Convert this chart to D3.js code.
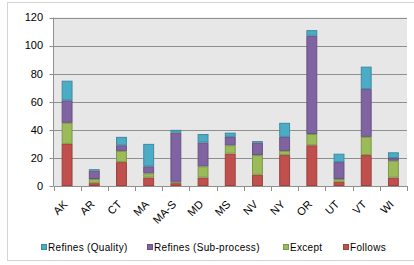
<!DOCTYPE html>
<html>
<head>
<meta charset="utf-8">
<script src="https://cdn.jsdelivr.net/npm/d3@7"></script>
<style>
  body { margin: 0; background: #fff; }
  svg { display: block; font-family: "Liberation Sans", Arial, sans-serif; }
</style>
</head>
<body>
<svg id="chart" width="414" height="265"></svg>
<script>
// data
var states = ['AK', 'AR', 'CT', 'MA', 'MA-S', 'MD', 'MS', 'NV', 'NY', 'OR', 'UT', 'VT', 'WI'];
var follows    = [30, 2, 17, 6, 2, 6, 23, 8, 22, 29, 3, 22, 6];
var except     = [15, 3, 8, 3, 1, 8, 6, 14, 3, 8, 2, 13, 12];
var subProcess = [16, 6, 4, 5, 35, 17, 6, 9, 10, 70, 12, 34, 2];
var quality    = [14, 1, 6, 16, 2, 6, 3, 1, 10, 4, 6, 16, 4];
var yTicks = [0, 20, 40, 60, 80, 100, 120];

var seriesNames = ['Follows', 'Except', 'Refines (Sub-process)', 'Refines (Quality)'];
var seriesColors = ['#c0504d', '#9bbb59', '#8064a2', '#4bacc6'];
var legendOrder = [3, 2, 1, 0];

var svg = d3.select('#chart');

// outer chart border
svg.append('rect')
  .attr('x', 7.5).attr('y', 2.5)
  .attr('width', 430).attr('height', 258)
  .attr('fill', 'none')
  .attr('stroke', '#d4d4d4');

var plot = { left: 53.5, right: 407, top: 17.5, bottom: 186 };

var x = d3.scaleBand()
  .domain(states)
  .range([plot.left, plot.right])
  .paddingInner(0.6)
  .paddingOuter(0.3);

var y = d3.scaleLinear()
  .domain([0, 120])
  .range([plot.bottom, plot.top]);

// plot background
svg.append('rect')
  .attr('x', plot.left).attr('y', plot.top)
  .attr('width', plot.right - plot.left)
  .attr('height', plot.bottom - plot.top)
  .attr('fill', '#e7e7e7');

// gridlines
svg.append('g')
  .selectAll('line')
  .data(yTicks.slice(1))
  .enter().append('line')
  .attr('x1', plot.left).attr('x2', plot.right)
  .attr('y1', function(d) { return Math.round(y(d)) + 0.5; })
  .attr('y2', function(d) { return Math.round(y(d)) + 0.5; })
  .attr('stroke', '#8f8f8f')
  .attr('stroke-width', 1);

// stacked bars, follows at the bottom
var rows = states.map(function(s, i) {
  return { state: s, s0: follows[i], s1: except[i], s2: subProcess[i], s3: quality[i] };
});
var layers = d3.stack().keys(['s0', 's1', 's2', 's3'])(rows);

svg.append('g')
  .selectAll('g')
  .data(layers)
  .enter().append('g')
  .attr('fill', function(d, i) { return seriesColors[i]; })
  .attr('stroke', function(d, i) { return d3.color(seriesColors[i]).darker(0.6); })
  .selectAll('rect')
  .data(function(d) { return d; })
  .enter().append('rect')
  .attr('x', function(d) { return x(d.data.state) + 0.5; })
  .attr('width', x.bandwidth() - 1)
  .attr('y', function(d) { return y(d[1]) + 0.5; })
  .attr('height', function(d) { return Math.max(0, y(d[0]) - y(d[1]) - 1); })
  .attr('stroke-width', 1);

// y axis
var yAxis = svg.append('g');
yAxis.append('line')
  .attr('x1', plot.left).attr('x2', plot.left)
  .attr('y1', plot.top).attr('y2', plot.bottom)
  .attr('stroke', '#8f8f8f');
yAxis.selectAll('line.tick')
  .data(yTicks)
  .enter().append('line')
  .attr('class', 'tick')
  .attr('x1', plot.left - 4).attr('x2', plot.left)
  .attr('y1', function(d) { return Math.round(y(d)) + 0.5; })
  .attr('y2', function(d) { return Math.round(y(d)) + 0.5; })
  .attr('stroke', '#8f8f8f');
yAxis.selectAll('text')
  .data(yTicks)
  .enter().append('text')
  .attr('x', 43)
  .attr('y', function(d) { return y(d); })
  .attr('dy', '0.35em')
  .attr('text-anchor', 'end')
  .attr('font-size', 11)
  .attr('fill', '#000')
  .text(function(d) { return d; });

// x axis, ticks sit between the categories
var xAxis = svg.append('g');
xAxis.append('line')
  .attr('x1', plot.left).attr('x2', plot.right)
  .attr('y1', plot.bottom + 0.5).attr('y2', plot.bottom + 0.5)
  .attr('stroke', '#8f8f8f');
var edges = d3.range(states.length + 1).map(function(i) { return plot.left + i * x.step(); });
xAxis.selectAll('line.tick')
  .data(edges)
  .enter().append('line')
  .attr('class', 'tick')
  .attr('x1', function(d) { return Math.round(d) + 0.5; })
  .attr('x2', function(d) { return Math.round(d) + 0.5; })
  .attr('y1', plot.bottom).attr('y2', plot.bottom + 5)
  .attr('stroke', '#8f8f8f');
xAxis.selectAll('text')
  .data(states)
  .enter().append('text')
  .attr('text-anchor', 'end')
  .attr('font-size', 11)
  .attr('fill', '#000')
  .attr('transform', function(d) {
    var cx = x(d) + x.bandwidth() / 2 + 1;
    return 'translate(' + cx + ',205) rotate(-45)';
  })
  .text(function(d) { return d; });

// legend
var legendX = [41, 147, 283, 343];
var legend = svg.append('g')
  .selectAll('g')
  .data(legendOrder)
  .enter().append('g')
  .attr('transform', function(d, i) { return 'translate(' + legendX[i] + ',244)'; });
legend.append('rect')
  .attr('x', 0.5).attr('y', 0.5)
  .attr('width', 5).attr('height', 5)
  .attr('fill', function(d) { return seriesColors[d]; })
  .attr('stroke', function(d) { return d3.color(seriesColors[d]).darker(0.6); });
legend.append('text')
  .attr('x', 7)
  .attr('y', 3)
  .attr('dy', '0.35em')
  .attr('font-size', 10)
  .attr('letter-spacing', 0.3)
  .attr('fill', '#000')
  .text(function(d) { return seriesNames[d]; });
</script>
</body>
</html>
